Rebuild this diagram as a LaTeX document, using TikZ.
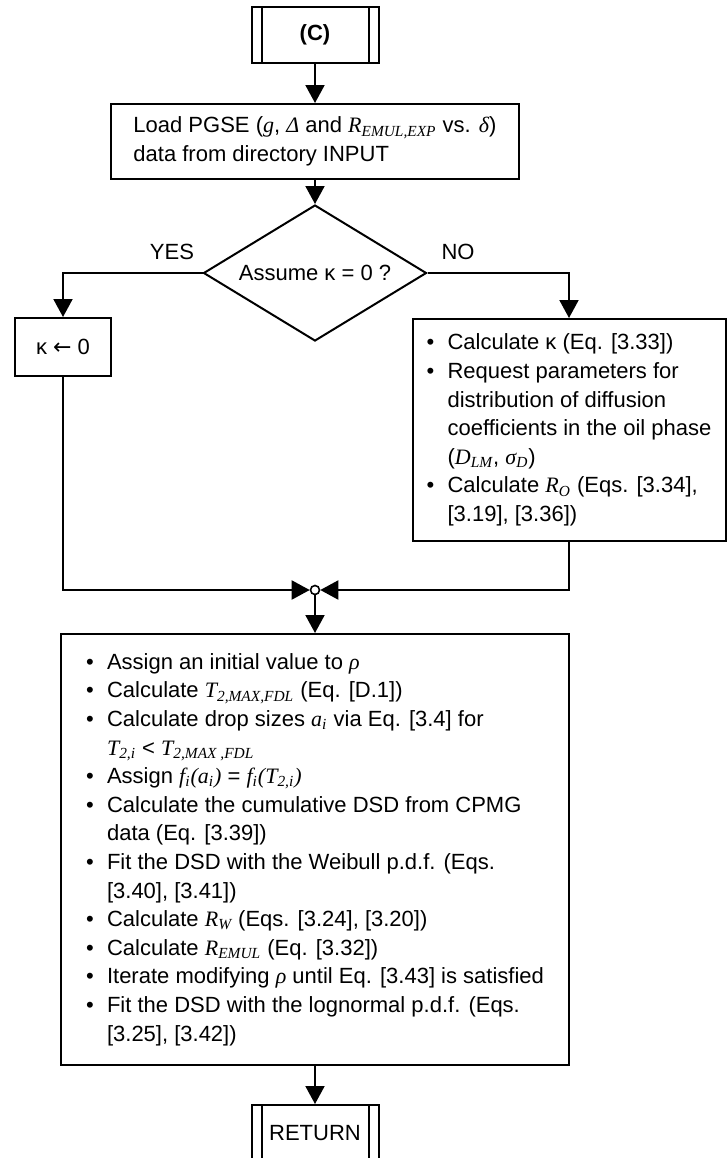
\documentclass[tikz,border=0pt]{standalone}
\usepackage{fontspec}
\setmainfont{Liberation Sans}
\newfontfamily\tnr{Liberation Serif}
\newfontfamily\djv{DejaVu Sans}
\usetikzlibrary{shapes.geometric,arrows.meta}
\newcommand{\flowfont}{\fontsize{11pt}{14.3pt}\selectfont}
\newcommand{\mi}[1]{{\tnr\itshape #1}}
\newcommand{\sbs}[1]{\textsubscript{\tnr\itshape #1}}
\newcommand{\blt}{\makebox[10.5pt][l]{\textbullet}}
\newcommand{\ind}{\hspace*{10.5pt}}
\tikzset{
  flowline/.style={line width=1pt},
  flowarr/.style={flowline, -{Triangle[length=9pt,width=9.5pt]}},
  pbox/.style={draw, line width=1pt, align=left, inner sep=0pt, font=\flowfont},
  subproc/.style={pbox, align=center, minimum width=63.5pt, minimum height=28pt,
                  path picture={\draw[line width=1pt]
                    ([xshift=5pt]path picture bounding box.north west) -- ([xshift=5pt]path picture bounding box.south west)
                    ([xshift=-5pt]path picture bounding box.north east) -- ([xshift=-5pt]path picture bounding box.south east);}},
  decide/.style={draw, diamond, line width=1pt, aspect=1.64, inner sep=0pt,
                 minimum width=111.5pt, minimum height=68pt, font=\flowfont},
  joint/.style={draw, circle, line width=0.8pt, fill=white, minimum size=4.5pt, inner sep=0pt},
  lbl/.style={font=\flowfont},
}

\begin{document}
\begin{tikzpicture}[x=0.5pt,y=-0.5pt]
\useasboundingbox (0,0) rectangle (727,1158);
% start / end
\node[subproc, font=\flowfont\bfseries] (cstart) at (315,35) {(C)};
\node[subproc] (ret) at (315,1133) {RETURN};
% input
\node[pbox, minimum width=204pt, minimum height=37.5pt] (load) at (315,141.5)
  {Load PGSE (\mi{g}, \mi{Δ} and \mi{R}\sbs{EMUL,EXP} vs. \mi{δ})\\data from directory INPUT};
% decision
\node[decide] (assume) at (315,273) {Assume κ = 0 ?};
\node[lbl] (yes) at (172,252) {YES};
\node[lbl] (no) at (458,252) {NO};
% branches
\node[pbox, align=center, minimum width=48pt, minimum height=29pt] (kzero) at (63,347) {κ {\djv ←} 0};
\node[pbox, minimum width=156.5pt, minimum height=111pt] (calck) at (569,430)
  {\blt Calculate κ (Eq. [3.33])\\
   \blt Request parameters for\\
   \ind distribution of diffusion\\
   \ind coefficients in the oil phase\\
   \ind (\mi{D}\sbs{LM}, \mi{σ}\sbs{D})\\
   \blt Calculate \mi{R}\sbs{O} (Eqs. [3.34],\\
   \ind [3.19], [3.36])};
\node[joint] (join) at (315,590) {};
% fitting
\node[pbox, minimum width=254pt, minimum height=215.5pt] (fitbox) at (315,849.5)
  {\blt Assign an initial value to \mi{ρ}\\
   \blt Calculate \mi{T}\sbs{2,MAX,FDL} (Eq. [D.1])\\
   \blt Calculate drop sizes \mi{a}\sbs{i} via Eq. [3.4] for\\
   \ind \mi{T}\sbs{2,i} < \mi{T}\sbs{2,MAX ,FDL}\\
   \blt Assign \mi{f}\sbs{i}\mi{(a}\sbs{i}\mi{)} = \mi{f}\sbs{i}\mi{(T}\sbs{2,i}\mi{)}\\
   \blt Calculate the cumulative DSD from CPMG\\
   \ind data (Eq. [3.39])\\
   \blt Fit the DSD with the Weibull p.d.f. (Eqs.\\
   \ind [3.40], [3.41])\\
   \blt Calculate \mi{R}\sbs{W} (Eqs. [3.24], [3.20])\\
   \blt Calculate \mi{R}\sbs{EMUL} (Eq. [3.32])\\
   \blt Iterate modifying \mi{ρ} until Eq. [3.43] is satisfied\\
   \blt Fit the DSD with the lognormal p.d.f. (Eqs.\\
   \ind [3.25], [3.42])};
% connectors
\draw[flowarr] (cstart) -- (load);
\draw[flowarr] (load) -- (assume);
\draw[flowarr] (assume.west) -| (kzero.north);
\draw[flowarr] (assume.east) -| (calck.north);
\draw[flowarr] (kzero.south) |- (join.west);
\draw[flowarr] (calck.south) |- (join.east);
\draw[flowarr] (join) -- (fitbox);
\draw[flowarr] (fitbox) -- (ret);
\end{tikzpicture}
\end{document}
